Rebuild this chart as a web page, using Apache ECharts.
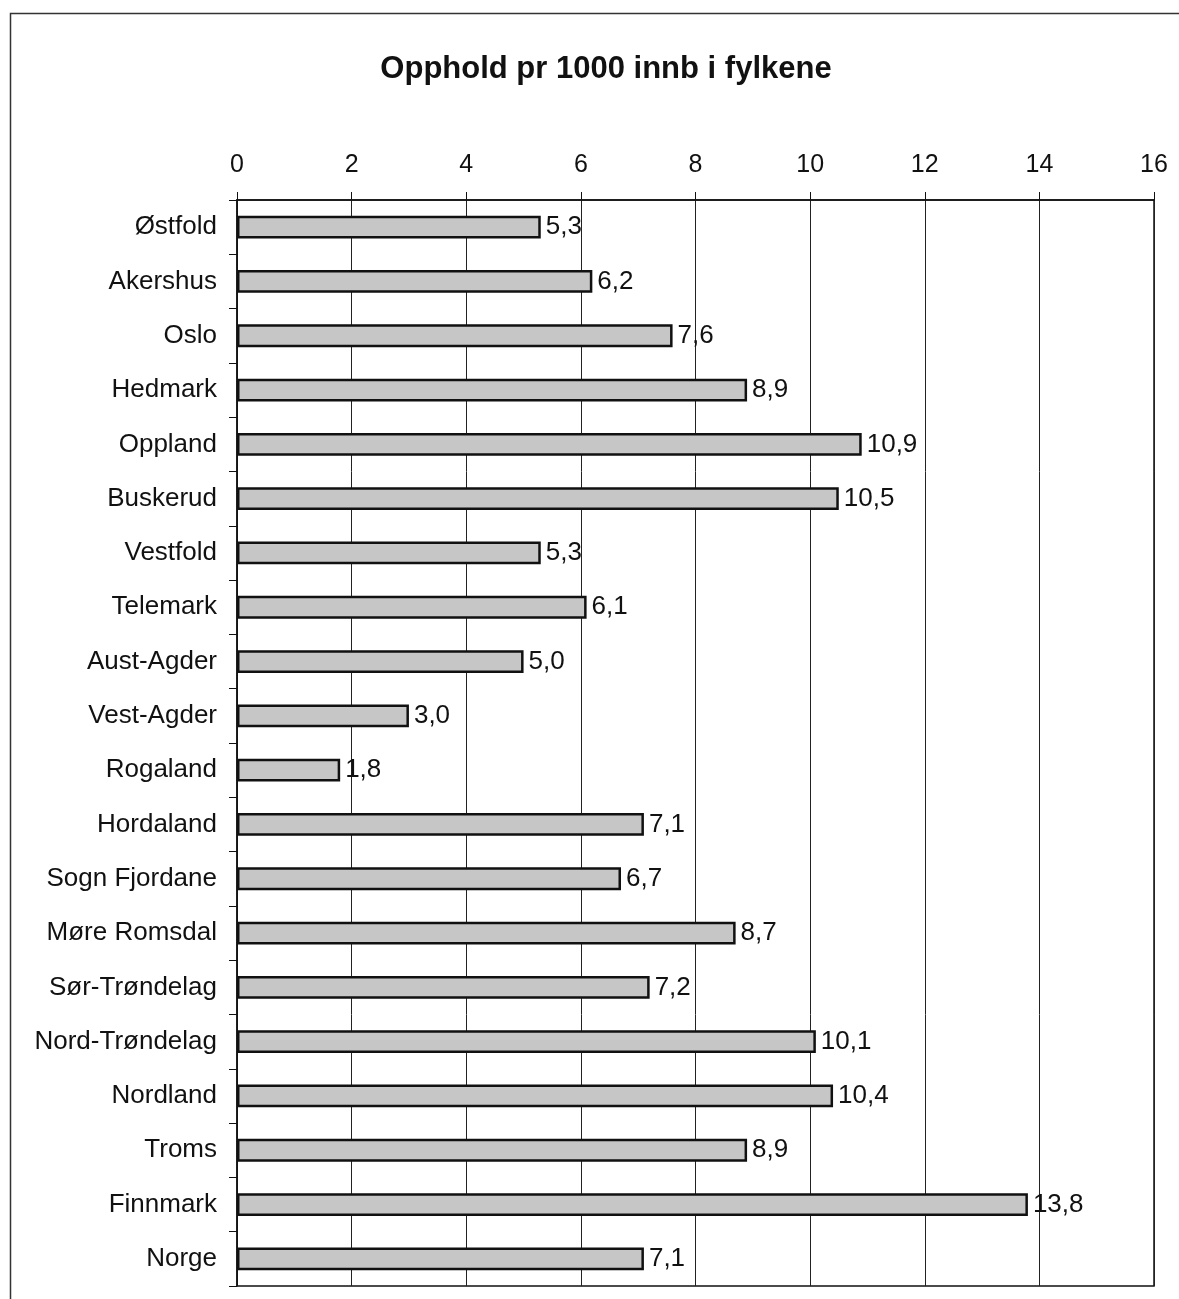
<!DOCTYPE html>
<html>
<head>
<meta charset="utf-8">
<script src="https://cdn.jsdelivr.net/npm/echarts@6/dist/echarts.min.js"></script>
<style>
  html, body { margin: 0; padding: 0; background: #fff; }
  #mainChart { width: 1179px; height: 1299px; }
</style>
</head>
<body>
<div id="mainChart"></div>
<script>
// fylker
var categories = ['Østfold', 'Akershus', 'Oslo', 'Hedmark', 'Oppland', 'Buskerud', 'Vestfold',
  'Telemark', 'Aust-Agder', 'Vest-Agder', 'Rogaland', 'Hordaland', 'Sogn Fjordane',
  'Møre Romsdal', 'Sør-Trøndelag', 'Nord-Trøndelag', 'Nordland', 'Troms', 'Finnmark', 'Norge']
// opphold pr 1000 innb
var values = [5.3, 6.2, 7.6, 8.9, 10.9, 10.5, 5.3, 6.1, 5.0, 3.0, 1.8, 7.1, 6.7, 8.7, 7.2, 10.1, 10.4, 8.9, 13.8, 7.1]

var font = 'Liberation Sans, Arial, sans-serif'
var chartDom = document.getElementById('mainChart')
var myChart = echarts.init(chartDom)
var option = {
  animation: false,
  backgroundColor: '#fff',
  title: {
    text: 'Opphold pr 1000 innb i fylkene',
    left: 601,
    top: 49,
    textAlign: 'center',
    textStyle: { fontFamily: font, fontSize: 31, fontWeight: 'bold', color: '#111' }
  },
  graphic: [
    {
      // ytre ramme
      type: 'rect',
      shape: { x: 10.5, y: 13.5, width: 1200, height: 1320 },
      style: { fill: 'none', stroke: '#333', lineWidth: 1.5 },
      silent: true
    }
  ],
  grid: {
    left: 237,
    top: 200,
    right: 25,
    bottom: 13,
    show: true,
    borderColor: '#111',
    borderWidth: 1.5
  },
  xAxis: {
    type: 'value',
    position: 'top',
    min: 0,
    max: 16,
    interval: 2,
    axisLine: { show: true, lineStyle: { color: '#111', width: 1.5 } },
    axisTick: { show: true, inside: false, length: 8, lineStyle: { color: '#111' } },
    axisLabel: { fontFamily: font, fontSize: 25, color: '#111', margin: 22 },
    splitLine: { show: true, lineStyle: { color: '#222', width: 1 } }
  },
  yAxis: {
    type: 'category',
    inverse: true,
    data: categories,
    axisLine: { show: true, lineStyle: { color: '#111', width: 1.5 } },
    axisTick: { show: true, inside: false, length: 8, alignWithLabel: false, lineStyle: { color: '#111' } },
    axisLabel: { fontFamily: font, fontSize: 26, color: '#111', margin: 20 },
    splitLine: { show: false }
  },
  series: [
    {
      type: 'bar',
      data: values,
      barWidth: '42%',
      itemStyle: { color: '#c6c6c6', borderColor: '#111', borderWidth: 2.5 },
      label: {
        show: true,
        position: 'right',
        distance: 5,
        fontFamily: font,
        fontSize: 26,
        color: '#111',
        formatter: function (p) { return p.value.toFixed(1).replace('.', ',') }
      }
    }
  ]
}
myChart.setOption(option)
</script>
</body>
</html>
